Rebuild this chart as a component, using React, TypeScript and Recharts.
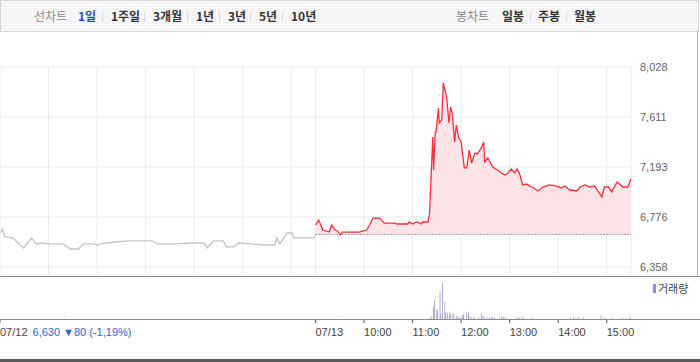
import React from "react";
import {
  Area,
  Bar,
  BarChart,
  CartesianGrid,
  ComposedChart,
  Line,
  ReferenceLine,
  XAxis,
  YAxis
} from "recharts";

const prevClose = 6630;
const priceTicks = [6358, 6776, 7193, 7611, 8028];
const priceFloor = 6283;

const prevTimes = [
  "09:00", "09:03", "09:06", "09:16", "09:29", "09:39", "09:45", "09:52", "09:56", "10:18",
  "10:27", "10:37", "10:43", "10:55", "11:00", "11:10", "11:24", "11:39", "12:08", "12:14",
  "12:36", "12:55", "13:12", "13:16", "13:24", "13:36", "13:40", "13:49", "13:55", "14:09",
  "14:26", "14:40", "14:42", "14:46", "14:55", "15:01", "15:03", "15:28", "15:30"
];
const prevPrices = [
  6642, 6675, 6609, 6600, 6517, 6600, 6551, 6559, 6551, 6551,
  6509, 6509, 6551, 6551, 6542, 6559, 6567, 6576, 6576, 6551,
  6551, 6559, 6559, 6517, 6576, 6576, 6526, 6526, 6559, 6551,
  6542, 6542, 6601, 6551, 6642, 6642, 6601, 6601, 6630
];

const todayTimes = [
  "09:00", "09:04", "09:09", "09:17", "09:20", "09:24", "09:27", "09:31", "09:33", "09:54",
  "10:03", "10:07", "10:11", "10:19", "10:25", "10:38", "10:41", "10:54", "10:56", "11:00",
  "11:05", "11:11", "11:12", "11:19", "11:21", "11:25", "11:26", "11:28", "11:29", "11:32",
  "11:33", "11:36", "11:38", "11:42", "11:45", "11:47", "11:49", "11:52", "11:54", "11:57",
  "12:00", "12:04", "12:07", "12:10", "12:13", "12:17", "12:20", "12:25", "12:28", "12:29",
  "12:33", "12:39", "12:45", "12:50", "12:54", "12:58", "13:02", "13:06", "13:09", "13:12",
  "13:16", "13:21", "13:25", "13:28", "13:35", "13:41", "13:49", "13:58", "14:04", "14:08",
  "14:14", "14:23", "14:27", "14:33", "14:39", "14:45", "14:49", "14:54", "14:57", "15:02",
  "15:06", "15:10", "15:13", "15:20", "15:26", "15:30"
];
const todayPrices = [
  6709, 6750, 6667, 6650, 6709, 6667, 6659, 6625, 6650, 6650,
  6667, 6709, 6767, 6767, 6725, 6725, 6717, 6717, 6734, 6717,
  6734, 6717, 6734, 6734, 6809, 7444, 7168, 7485, 7485, 7686,
  7560, 7585, 7894, 7778, 7560, 7694, 7644, 7402, 7544, 7435,
  7402, 7185, 7185, 7335, 7226, 7310, 7302, 7352, 7402, 7235,
  7268, 7193, 7168, 7143, 7126, 7143, 7176, 7143, 7176, 7143,
  7043, 7051, 7034, 7026, 6993, 7026, 7043, 7034, 7018, 7034,
  7001, 6993, 7026, 7043, 7026, 7034, 6993, 6943, 7026, 7026,
  6985, 7034, 7068, 7026, 7026, 7093
];

const prevVolumeTimes = ["10:20"];
const prevVolumes = [3000];
const todayVolumeTimes = [
  "09:30", "11:20", "11:23", "11:26", "11:27", "11:30", "11:31", "11:34", "11:35", "11:37",
  "11:40", "11:41", "11:43", "11:46", "11:47", "11:50", "11:51", "11:54", "11:56", "11:58",
  "12:00", "12:02", "12:03", "12:07", "12:09", "12:10", "12:13", "12:15", "12:17", "12:22",
  "12:25", "12:27", "12:29", "12:32", "12:35", "12:37", "12:39", "12:41", "12:48", "12:50",
  "12:52", "12:55", "13:09", "13:12", "13:15", "13:17", "13:28", "14:15", "14:19", "14:22",
  "14:25", "14:31", "14:53", "14:57", "15:07", "15:19", "15:29"
];
const todayVolumes = [
  3000, 3500, 15000, 60000, 95000, 47000, 47000, 140000, 27000, 182000,
  87000, 37000, 32000, 37000, 23000, 27000, 27000, 15000, 10000, 7000,
  10000, 20000, 23000, 32000, 37000, 15000, 7000, 7000, 7000, 7000,
  27000, 15000, 7000, 7000, 7000, 7000, 10000, 7000, 7000, 10000,
  13000, 7000, 7000, 7000, 7000, 7000, 7000, 7000, 7000, 7000,
  7000, 7000, 17000, 7000, 7000, 7000, 10000
];
const volumeMax = 212000;

const gridHours = ["10:00", "11:00", "12:00", "13:00", "14:00", "15:00"];
const timeTickLabels = ["07/12", "07/13", "10:00", "11:00", "12:00", "13:00", "14:00", "15:00"];
const closeSummary = "6,630 ▼80 (-1,19%)";

const chartTabs = ["1일", "1주일", "3개월", "1년", "3년", "5년", "10년"];
const candleTabs = ["일봉", "주봉", "월봉"];

const SESSION = 390;
const toMin = (s: string) => {
  const [h, m] = s.split(":").map(Number);
  return (h - 9) * 60 + m;
};

const prevRows = prevTimes.map((t, i) => ({ t: toMin(t), price: prevPrices[i] }));
const todayRows = todayTimes.map((t, i) => ({ t: SESSION + toMin(t), price: todayPrices[i] }));
const volumeRows = [
  ...prevVolumeTimes.map((t, i) => ({ t: toMin(t), vol: prevVolumes[i] })),
  ...todayVolumeTimes.map((t, i) => ({ t: SESSION + toMin(t), vol: todayVolumes[i] }))
];
const gridTicks = [
  0,
  ...gridHours.map(toMin),
  SESSION,
  ...gridHours.map((h) => SESSION + toMin(h))
];
const labelToMin = (l: string) =>
  l === "07/12" ? 0 : l === "07/13" ? SESSION : SESSION + toMin(l);
const timeTicks = timeTickLabels.map(labelToMin);

const FONT = "'Liberation Sans', Arial, sans-serif";
const KFONT = "'Noto Sans CJK KR', 'Liberation Sans', sans-serif";

const TimeTick = (props: any) => {
  const { x, y, payload } = props;
  const idx = timeTicks.indexOf(payload.value);
  const label = timeTickLabels[idx];
  return (
    <text x={x} y={y} dy="0.71em" textAnchor="start" fontSize={11} fontFamily={FONT} fill="#444">
      {label}
      {idx === 0 && (
        <tspan dx={5} fill="#2a66d4">
          {closeSummary}
        </tspan>
      )}
    </text>
  );
};

const tabPos = [77, 110, 152, 195, 227, 258, 290];
const candlePos = [501, 537, 573];

export default function App() {
  return (
    <div style={{ position: "absolute", left: 0, top: 0, width: 700, height: 362, background: "#fff", overflow: "hidden" }}>
      <div
        style={{
          position: "absolute",
          left: 0,
          top: 0,
          width: 697,
          height: 30,
          border: "1px solid #d6d7dc",
          background: "#f6f6f8",
          fontFamily: KFONT,
          fontSize: 12,
          lineHeight: "30px"
        }}
      >
        <span style={{ position: "absolute", left: 33, color: "#8a8a8a" }}>선차트</span>
        {chartTabs.map((label, i) => (
          <React.Fragment key={label}>
            <span
              style={{
                position: "absolute",
                left: tabPos[i],
                fontWeight: 700,
                color: i === 0 ? "#2b4fb6" : "#333"
              }}
            >
              {label}
            </span>
            {i < chartTabs.length - 1 && (
              <span style={{ position: "absolute", left: tabPos[i + 1] - 9, top: 10, width: 1, height: 11, background: "#dcdcdc" }} />
            )}
          </React.Fragment>
        ))}
        <span style={{ position: "absolute", left: 455, color: "#8a8a8a" }}>봉차트</span>
        {candleTabs.map((label, i) => (
          <React.Fragment key={label}>
            <span style={{ position: "absolute", left: candlePos[i], fontWeight: 700, color: "#333" }}>{label}</span>
            {i < candleTabs.length - 1 && (
              <span style={{ position: "absolute", left: candlePos[i + 1] - 8, top: 10, width: 1, height: 11, background: "#dcdcdc" }} />
            )}
          </React.Fragment>
        ))}
      </div>

      <div style={{ position: "absolute", left: 0, top: 31 }}>
        <ComposedChart width={700} height={245} margin={{ top: 36, right: 0, bottom: 0, left: 0 }}>
          <CartesianGrid stroke="#ebebeb" />
          <XAxis
            type="number"
            dataKey="t"
            domain={[0, 2 * SESSION]}
            ticks={gridTicks}
            interval={0}
            hide
          />
          <YAxis
            orientation="right"
            width={69}
            domain={[priceFloor, priceTicks[priceTicks.length - 1]]}
            ticks={priceTicks}
            interval={0}
            allowDataOverflow
            axisLine={false}
            tickLine={false}
            tickSize={6}
            tickMargin={3}
            tick={{ fontSize: 11, fill: "#666", fontFamily: FONT }}
            tickFormatter={(v) => Number(v).toLocaleString("en-US")}
          />
          <Line
            data={prevRows}
            dataKey="price"
            type="linear"
            stroke="#c6c6ca"
            strokeWidth={1.4}
            dot={false}
            isAnimationActive={false}
          />
          <Area
            data={todayRows}
            dataKey="price"
            type="linear"
            baseValue={prevClose}
            stroke="#ff2d3a"
            strokeWidth={1.3}
            fill="#fde4e7"
            fillOpacity={1}
            dot={false}
            isAnimationActive={false}
          />
          <ReferenceLine
            segment={[
              { x: SESSION, y: prevClose },
              { x: 2 * SESSION, y: prevClose }
            ]}
            stroke="#555"
            strokeDasharray="1 2"
          />
        </ComposedChart>
      </div>

      <div style={{ position: "absolute", left: 697, top: 31, width: 1, height: 245, background: "#b5b5b5" }} />
      <div style={{ position: "absolute", left: 0, top: 276, width: 700, height: 1, background: "#8c8c8c" }} />

      <div style={{ position: "absolute", left: 0, top: 277 }}>
        <BarChart width={700} height={85} data={volumeRows} margin={{ top: 0, right: 69, bottom: 0, left: 0 }}>
          <XAxis
            type="number"
            dataKey="t"
            domain={[0, 2 * SESSION]}
            ticks={timeTicks}
            interval={0}
            height={43}
            axisLine={false}
            tickLine={{ stroke: "#555" }}
            tickSize={4}
            tickMargin={5}
            tick={<TimeTick />}
          />
          <YAxis hide domain={[0, volumeMax]} />
          <Bar dataKey="vol" fill="#9a86cb" barSize={1} isAnimationActive={false} />
        </BarChart>
      </div>

      <div style={{ position: "absolute", left: 0, top: 319, width: 700, height: 1, background: "#8c8c8c" }} />
      <div style={{ position: "absolute", left: 653, top: 284, width: 3, height: 9, background: "#9a86cb" }} />
      <div
        style={{
          position: "absolute",
          left: 658,
          top: 281,
          fontFamily: KFONT,
          fontSize: 11,
          color: "#444",
          lineHeight: "15px"
        }}
      >
        거래량
      </div>
      <div style={{ position: "absolute", left: 0, top: 359, width: 700, height: 3, background: "#5a5a5a" }} />
    </div>
  );
}
